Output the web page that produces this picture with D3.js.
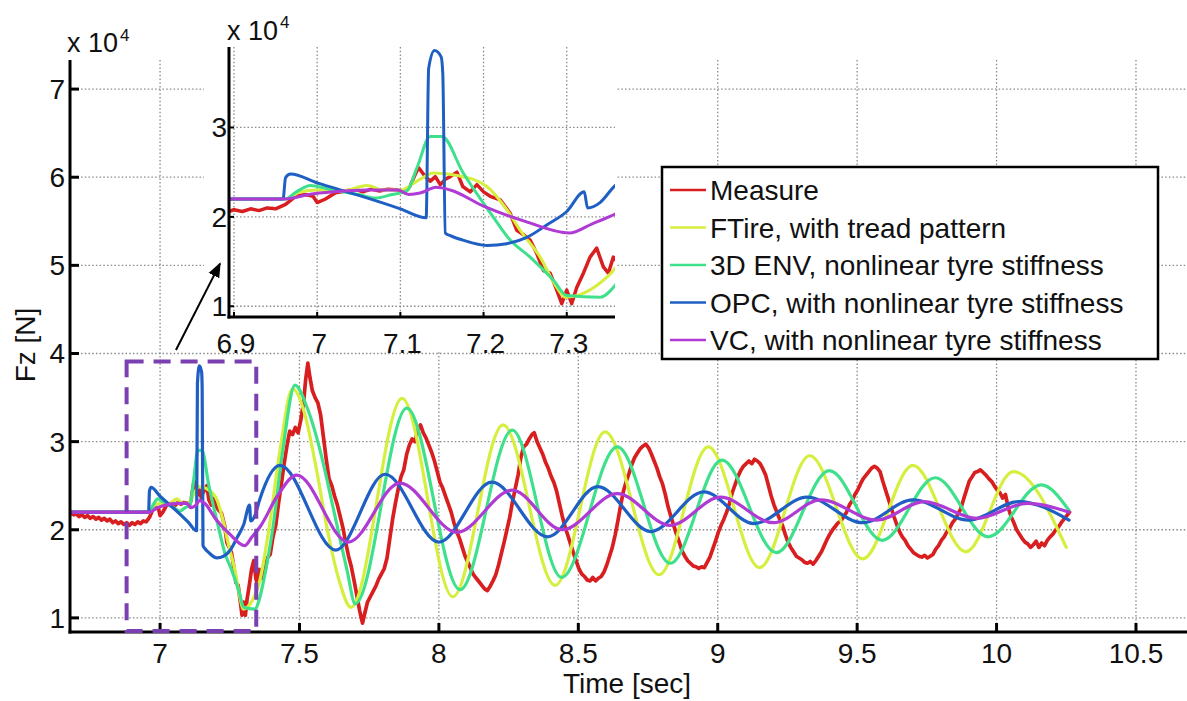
<!DOCTYPE html>
<html><head><meta charset="utf-8">
<script src="https://cdn.jsdelivr.net/npm/d3@7"></script>
<style>
body{margin:0;background:#fff}
svg{display:block}
text{font-family:"Liberation Sans",Arial,Helvetica,sans-serif;fill:#111}
</style>
</head><body><svg id="c" width="1187" height="701"></svg>
<script>
// ---------- data ----------
const seriesNames = ["Measure","FTire, with tread pattern","3D ENV, nonlinear tyre stiffness","OPC, with nonlinear tyre stiffness","VC, with nonlinear tyre stiffness"];
const seriesColors = ["#d81e1e","#d6ee3e","#3ee08c","#1f5fc4","#b03ad4"];
const seriesWidths = [3.7,3.2,3.2,3.2,3.2];
const xTicksMain = [7,7.5,8,8.5,9,9.5,10,10.5];
const yTicksMain = [1,2,3,4,5,6,7];
const xTicksInset = [6.9,7,7.1,7.2,7.3];
const yTicksInset = [1,2,3];
const axisLabels = {x:"Time [sec]", y:"Fz [N]", exp:"x 10", expSup:"4"};

// time [s], Fz [x 10^4 N]
const measure = [
[6.68,2.19],[6.69,2.17],[6.70,2.18],[6.71,2.15],[6.72,2.17],[6.73,2.14],[6.74,2.16],[6.75,2.13],[6.76,2.15],[6.77,2.12],[6.78,2.14],[6.79,2.11],[6.80,2.13],[6.81,2.10],[6.82,2.12],[6.83,2.08],[6.84,2.10],[6.85,2.07],[6.86,2.09],[6.87,2.06],[6.88,2.08],[6.89,2.05],[6.90,2.08],[6.91,2.06],[6.92,2.09],[6.93,2.07],[6.94,2.10],[6.95,2.09],[6.962,2.14],[6.974,2.23],[6.986,2.25],[6.995,2.23],[7.0,2.16],[7.01,2.2],[7.022,2.27],[7.034,2.29],[7.045,2.31],[7.055,2.28],[7.065,2.31],[7.075,2.29],[7.085,2.31],[7.097,2.3],[7.105,2.27],[7.112,2.35],[7.118,2.48],[7.122,2.55],[7.13,2.45],[7.136,2.4],[7.142,2.45],[7.148,2.36],[7.154,2.42],[7.16,2.45],[7.168,2.5],[7.175,2.34],[7.184,2.28],[7.192,2.36],[7.2,2.28],[7.208,2.23],[7.22,2.19],[7.232,2.04],[7.24,1.85],[7.248,1.8],[7.256,1.74],[7.264,1.59],[7.272,1.4],[7.28,1.37],[7.288,1.18],[7.294,1.03],[7.3,1.18],[7.306,1.03],[7.312,1.21],[7.32,1.37],[7.328,1.55],[7.336,1.65],[7.344,1.44],[7.35,1.37],[7.356,1.55],[7.365,1.45],[7.375,1.52],[7.385,1.68],[7.395,1.72],[7.405,1.92],[7.415,2.05],[7.425,2.3],[7.435,2.52],[7.445,2.75],[7.455,2.95],[7.465,3.12],[7.475,3.08],[7.485,3.16],[7.495,3.1],[7.505,3.25],[7.515,3.45],[7.522,3.7],[7.53,3.89],[7.538,3.72],[7.546,3.58],[7.556,3.5],[7.566,3.44],[7.576,3.3],[7.586,3.05],[7.596,2.8],[7.606,2.58],[7.616,2.5],[7.626,2.38],[7.636,2.28],[7.646,2.15],[7.656,2.02],[7.666,1.85],[7.676,1.7],[7.686,1.58],[7.696,1.42],[7.706,1.25],[7.716,1.08],[7.726,0.94],[7.734,1.05],[7.744,1.18],[7.754,1.24],[7.764,1.3],[7.774,1.36],[7.784,1.44],[7.794,1.5],[7.804,1.56],[7.814,1.68],[7.824,1.9],[7.834,2.12],[7.844,2.3],[7.854,2.46],[7.864,2.6],[7.874,2.68],[7.884,2.85],[7.894,2.96],[7.904,3.03],[7.914,3.0],[7.924,3.12],[7.934,3.19],[7.944,3.1],[7.954,3.04],[7.964,2.96],[7.974,2.88],[7.984,2.78],[7.994,2.66],[8.004,2.54],[8.014,2.47],[8.024,2.38],[8.034,2.29],[8.044,2.2],[8.054,2.08],[8.064,1.98],[8.074,1.9],[8.084,1.8],[8.094,1.7],[8.104,1.63],[8.114,1.56],[8.124,1.49],[8.134,1.45],[8.144,1.41],[8.154,1.37],[8.164,1.33],[8.174,1.31],[8.184,1.36],[8.194,1.42],[8.204,1.49],[8.214,1.6],[8.224,1.73],[8.234,1.86],[8.244,2.0],[8.254,2.14],[8.264,2.32],[8.274,2.47],[8.284,2.62],[8.294,2.82],[8.304,2.94],[8.314,2.97],[8.324,3.03],[8.334,3.08],[8.342,3.1],[8.352,3.0],[8.362,2.93],[8.372,2.86],[8.382,2.77],[8.392,2.7],[8.402,2.61],[8.412,2.54],[8.422,2.44],[8.432,2.3],[8.442,2.16],[8.452,2.04],[8.462,1.94],[8.472,1.84],[8.482,1.74],[8.492,1.65],[8.502,1.56],[8.512,1.5],[8.522,1.47],[8.532,1.43],[8.542,1.42],[8.552,1.46],[8.562,1.42],[8.572,1.45],[8.582,1.47],[8.592,1.52],[8.602,1.6],[8.612,1.7],[8.622,1.8],[8.632,1.94],[8.642,2.1],[8.652,2.28],[8.662,2.44],[8.672,2.55],[8.682,2.64],[8.692,2.74],[8.702,2.82],[8.712,2.87],[8.722,2.92],[8.732,2.95],[8.742,2.97],[8.752,2.93],[8.762,2.86],[8.772,2.78],[8.782,2.7],[8.792,2.6],[8.802,2.52],[8.812,2.4],[8.822,2.26],[8.832,2.15],[8.842,2.05],[8.852,1.95],[8.862,1.86],[8.872,1.76],[8.882,1.7],[8.892,1.65],[8.902,1.62],[8.912,1.59],[8.922,1.58],[8.932,1.56],[8.942,1.58],[8.952,1.57],[8.962,1.63],[8.972,1.69],[8.982,1.78],[8.992,1.87],[9.002,1.97],[9.012,2.05],[9.022,2.12],[9.032,2.2],[9.042,2.3],[9.052,2.42],[9.062,2.51],[9.072,2.6],[9.082,2.67],[9.092,2.72],[9.102,2.75],[9.112,2.78],[9.122,2.75],[9.132,2.8],[9.142,2.78],[9.152,2.75],[9.162,2.69],[9.172,2.62],[9.182,2.5],[9.192,2.38],[9.202,2.28],[9.212,2.2],[9.222,2.12],[9.232,2.05],[9.242,1.95],[9.252,1.86],[9.262,1.8],[9.272,1.75],[9.282,1.7],[9.292,1.68],[9.302,1.66],[9.312,1.63],[9.322,1.62],[9.332,1.64],[9.342,1.61],[9.352,1.65],[9.362,1.7],[9.372,1.75],[9.382,1.82],[9.392,1.89],[9.402,1.95],[9.412,2.0],[9.422,2.04],[9.432,2.08],[9.442,2.1],[9.452,2.15],[9.462,2.2],[9.472,2.28],[9.482,2.33],[9.492,2.4],[9.502,2.45],[9.512,2.52],[9.522,2.58],[9.532,2.62],[9.542,2.66],[9.552,2.7],[9.562,2.72],[9.572,2.7],[9.582,2.66],[9.592,2.55],[9.602,2.45],[9.612,2.35],[9.622,2.25],[9.632,2.15],[9.642,2.06],[9.652,1.98],[9.662,1.92],[9.672,1.88],[9.682,1.82],[9.692,1.78],[9.702,1.74],[9.712,1.72],[9.722,1.7],[9.732,1.69],[9.742,1.71],[9.752,1.68],[9.762,1.7],[9.772,1.72],[9.782,1.78],[9.792,1.82],[9.802,1.88],[9.812,1.92],[9.822,1.98],[9.832,2.02],[9.842,2.08],[9.852,2.12],[9.862,2.18],[9.872,2.24],[9.882,2.35],[9.892,2.45],[9.902,2.55],[9.912,2.6],[9.922,2.65],[9.932,2.66],[9.942,2.68],[9.952,2.65],[9.962,2.62],[9.972,2.58],[9.982,2.55],[9.992,2.5],[10.002,2.45],[10.012,2.42],[10.022,2.36],[10.032,2.4],[10.042,2.25],[10.052,2.15],[10.062,2.08],[10.072,2.0],[10.082,1.95],[10.092,1.9],[10.102,1.86],[10.112,1.84],[10.122,1.8],[10.132,1.83],[10.142,1.87],[10.152,1.8],[10.162,1.85],[10.172,1.82],[10.182,1.88],[10.192,1.92],[10.202,1.95],[10.212,2.0],[10.222,2.03],[10.232,2.08],[10.242,2.12],[10.252,2.16],[10.262,2.2]
];

const ftire = [
[6.68,2.2],[6.962,2.2],[6.98,2.28],[7.0,2.3],[7.03,2.29],[7.06,2.35],[7.08,2.3],[7.1,2.3],[7.12,2.4],[7.14,2.49],[7.17,2.46],[7.204,2.34],[7.228,2.08],[7.244,1.85],[7.268,1.55],[7.288,1.21],[7.298,1.1],[7.316,1.13],[7.34,1.26],[7.356,1.4],[7.39,2.0],[7.43,2.9],[7.475,3.6],[7.52,3.3],[7.56,2.7],[7.6,2.0],[7.64,1.45],[7.685,1.12],[7.868,3.49],[8.05,1.24],[8.23,3.19],[8.417,1.37],[8.596,3.11],[8.79,1.49],[8.966,2.94],[9.15,1.57],[9.33,2.84],[9.52,1.67],[9.70,2.73],[9.89,1.75],[10.06,2.66],[10.25,1.80]
];

const env3d = [
[6.68,2.2],[6.962,2.2],[6.975,2.28],[6.992,2.35],[7.01,2.32],[7.03,2.28],[7.05,2.25],[7.07,2.21],[7.09,2.25],[7.108,2.29],[7.12,2.55],[7.136,2.9],[7.15,2.9],[7.175,2.5],[7.21,2.02],[7.232,1.74],[7.256,1.55],[7.284,1.29],[7.3,1.12],[7.34,1.1],[7.356,1.21],[7.372,1.43],[7.405,2.03],[7.44,2.9],[7.484,3.64],[7.527,3.39],[7.574,2.9],[7.62,2.26],[7.67,1.55],[7.7,1.16],[7.885,3.38],[8.076,1.32],[8.263,3.13],[8.44,1.46],[8.64,2.94],[8.83,1.62],[9.015,2.79],[9.21,1.74],[9.40,2.67],[9.59,1.88],[9.78,2.59],[9.97,1.92],[10.16,2.51],[10.26,2.22]
];

const opc = [
[6.68,2.2],[6.959,2.2],[6.962,2.44],[6.968,2.48],[7.0,2.38],[7.05,2.24],[7.1,2.09],[7.131,1.99],[7.134,3.66],[7.141,3.86],[7.149,3.79],[7.151,3.6],[7.154,1.82],[7.16,1.79],[7.175,1.74],[7.204,1.68],[7.228,1.7],[7.252,1.77],[7.276,1.91],[7.3,2.06],[7.321,2.28],[7.325,2.1],[7.34,2.16],[7.356,2.33],[7.43,2.73],[7.63,1.77],[7.807,2.63],[8.0,1.86],[8.19,2.54],[8.39,1.92],[8.57,2.49],[8.76,1.98],[8.95,2.43],[9.13,2.07],[9.32,2.37],[9.52,2.08],[9.70,2.34],[9.9,2.11],[10.08,2.32],[10.26,2.11]
];

const vc = [
[6.68,2.2],[6.962,2.2],[6.99,2.25],[7.02,2.28],[7.06,2.3],[7.097,2.3],[7.11,2.25],[7.125,2.27],[7.143,2.33],[7.16,2.3],[7.2,2.12],[7.25,1.95],[7.303,1.82],[7.33,1.92],[7.36,2.04],[7.42,2.38],[7.49,2.62],[7.675,1.86],[7.86,2.53],[8.065,1.97],[8.263,2.45],[8.442,2.0],[8.64,2.41],[8.83,2.05],[9.01,2.37],[9.2,2.08],[9.37,2.34],[9.57,2.11],[9.74,2.32],[9.93,2.13],[10.11,2.30],[10.26,2.2]
];

const allSeries = [measure, ftire, env3d, opc, vc];
const curveKinds = ["linear","smooth","smooth","smooth","smooth"];

// zoom window annotation (data coords) and arrow (data coords)
const zoomBox = {t0:6.88, t1:7.345, v0:0.85, v1:3.91};
const arrowFrom = [7.057, 4.04];
const arrowTo = [7.215, 5.02];

// ---------- layout ----------
const svg = d3.select("#c");
const M = {left:70, right:1187, top:60, bottom:632};
const x = d3.scaleLinear().domain([6.677, 10.683]).range([M.left, M.right]);
const y = d3.scaleLinear().domain([0.84, 7.33]).range([M.bottom, M.top]);

const I = {left:229, right:615, top:47, bottom:317};
const xi = d3.scaleLinear().domain([6.894, 7.358]).range([I.left, I.right]);
const yi = d3.scaleLinear().domain([0.88, 3.9]).range([I.bottom, I.top]);

const FS = 28;
const gridStyle = g => g.attr("stroke","#8a8a8a").attr("stroke-width",1.3).attr("stroke-dasharray","1.5,2.2").attr("fill","none");

const defs = svg.append("defs");
defs.append("clipPath").attr("id","clipMain").append("rect")
  .attr("x",M.left).attr("y",M.top).attr("width",M.right-M.left).attr("height",M.bottom-M.top);
defs.append("clipPath").attr("id","clipInset").append("rect")
  .attr("x",I.left).attr("y",I.top-2).attr("width",I.right-I.left).attr("height",I.bottom-I.top+2);
defs.append("marker").attr("id","arrowHead").attr("viewBox","0 0 10 10").attr("refX",9).attr("refY",5)
  .attr("markerUnits","userSpaceOnUse").attr("orient","auto")
  .attr("markerWidth",15).attr("markerHeight",15)
  .append("path").attr("d","M0,1 L10,5 L0,9 Z").attr("fill","#000");

// ---------- main grid ----------
const gMainGrid = svg.append("g").call(gridStyle);
gMainGrid.selectAll("line.h").data(yTicksMain).join("line").attr("class","h")
  .attr("x1",M.left).attr("x2",M.right).attr("y1",d=>y(d)).attr("y2",d=>y(d));
gMainGrid.selectAll("line.v").data(xTicksMain).join("line").attr("class","v")
  .attr("x1",d=>x(d)).attr("x2",d=>x(d)).attr("y1",M.top).attr("y2",M.bottom);

// ---------- main series ----------
function lineGen(xs, ys, kind){
  return d3.line().x(d=>xs(d[0])).y(d=>ys(d[1]))
    .curve(kind==="smooth" ? d3.curveMonotoneX : d3.curveLinear);
}
const gMain = svg.append("g").attr("clip-path","url(#clipMain)");
allSeries.forEach((s,i)=>{
  gMain.append("path").datum(s).attr("d", lineGen(x,y,curveKinds[i]))
    .attr("fill","none").attr("stroke",seriesColors[i]).attr("stroke-width",seriesWidths[i])
    .attr("stroke-linejoin","round").attr("stroke-linecap","round");
});

// ---------- main axes ----------
const gAx = svg.append("g");
gAx.append("line").attr("x1",M.left).attr("x2",M.left).attr("y1",M.top).attr("y2",M.bottom+1.5)
  .attr("stroke","#000").attr("stroke-width",3);
gAx.append("line").attr("x1",M.left-1.5).attr("x2",M.right).attr("y1",M.bottom).attr("y2",M.bottom)
  .attr("stroke","#000").attr("stroke-width",3);
gAx.selectAll("line.yt").data(yTicksMain).join("line").attr("class","yt")
  .attr("x1",M.left).attr("x2",M.left+9).attr("y1",d=>y(d)).attr("y2",d=>y(d))
  .attr("stroke","#000").attr("stroke-width",3);
gAx.selectAll("line.xt").data(xTicksMain).join("line").attr("class","xt")
  .attr("x1",d=>x(d)).attr("x2",d=>x(d)).attr("y1",M.bottom).attr("y2",M.bottom-9)
  .attr("stroke","#000").attr("stroke-width",3);
gAx.selectAll("text.yl").data(yTicksMain).join("text").attr("class","yl")
  .attr("x",M.left-5).attr("y",d=>y(d)+10).attr("text-anchor","end").attr("font-size",FS).text(d=>String(d));
gAx.selectAll("text.xl").data(xTicksMain).join("text").attr("class","xl")
  .attr("x",d=>x(d)).attr("y",M.bottom+31).attr("text-anchor","middle").attr("font-size",FS).text(d=>String(d));
svg.append("text").attr("x",627).attr("y",693).attr("text-anchor","middle").attr("font-size",FS).text(axisLabels.x);
svg.append("text").attr("transform","translate(35,345) rotate(-90)").attr("text-anchor","middle").attr("font-size",FS).text(axisLabels.y);
svg.append("text").attr("x",67).attr("y",52).attr("font-size",27).text(axisLabels.exp);
svg.append("text").attr("x",120).attr("y",41).attr("font-size",17).text(axisLabels.expSup);

// ---------- zoom box ----------
svg.append("rect").attr("x",x(zoomBox.t0)).attr("y",y(zoomBox.v1))
  .attr("width",x(zoomBox.t1)-x(zoomBox.t0)).attr("height",y(zoomBox.v0)-y(zoomBox.v1))
  .attr("fill","none").attr("stroke","#7a3fb0").attr("stroke-width",4).attr("stroke-dasharray","17,10");

// ---------- inset ----------
const gIn = svg.append("g");
gIn.append("rect").attr("x",204).attr("y",0).attr("width",412).attr("height",352).attr("fill","#fff");
const gInGrid = gIn.append("g").call(gridStyle);
gInGrid.selectAll("line.h").data(yTicksInset).join("line")
  .attr("x1",I.left).attr("x2",I.right).attr("y1",d=>yi(d)).attr("y2",d=>yi(d));
gInGrid.selectAll("line.v").data(xTicksInset).join("line").attr("class","v")
  .attr("x1",d=>xi(d)).attr("x2",d=>xi(d)).attr("y1",I.top).attr("y2",I.bottom);
const gInData = gIn.append("g").attr("clip-path","url(#clipInset)");
allSeries.forEach((s,i)=>{
  gInData.append("path").datum(s).attr("d", lineGen(xi,yi,curveKinds[i]))
    .attr("fill","none").attr("stroke",seriesColors[i]).attr("stroke-width",seriesWidths[i]-0.2)
    .attr("stroke-linejoin","round").attr("stroke-linecap","round");
});
gIn.append("line").attr("x1",I.left).attr("x2",I.left).attr("y1",I.top).attr("y2",I.bottom+1.5)
  .attr("stroke","#000").attr("stroke-width",3);
gIn.append("line").attr("x1",I.left-1.5).attr("x2",I.right).attr("y1",I.bottom).attr("y2",I.bottom)
  .attr("stroke","#000").attr("stroke-width",3);
gIn.selectAll("line.yt").data(yTicksInset).join("line").attr("class","yt")
  .attr("x1",I.left).attr("x2",I.left+5).attr("y1",d=>yi(d)).attr("y2",d=>yi(d)).attr("stroke","#000").attr("stroke-width",2);
gIn.selectAll("line.xt").data(xTicksInset).join("line").attr("class","xt")
  .attr("x1",d=>xi(d)).attr("x2",d=>xi(d)).attr("y1",I.bottom).attr("y2",I.bottom-5).attr("stroke","#000").attr("stroke-width",2);
gIn.selectAll("text.yl").data(yTicksInset).join("text").attr("class","yl")
  .attr("x",I.left-2).attr("y",d=>yi(d)+10).attr("text-anchor","end").attr("font-size",FS).text(d=>String(d));
gIn.selectAll("text.xl").data(xTicksInset).join("text").attr("class","xl")
  .attr("x",d=>xi(d)+2).attr("y",I.bottom+36).attr("text-anchor","middle").attr("font-size",FS).text(d=>String(d));
gIn.append("text").attr("x",227).attr("y",40).attr("font-size",27).text(axisLabels.exp);
gIn.append("text").attr("x",280).attr("y",28).attr("font-size",17).text(axisLabels.expSup);

// ---------- arrow ----------
svg.append("line").attr("x1",x(arrowFrom[0])).attr("y1",y(arrowFrom[1]))
  .attr("x2",x(arrowTo[0])).attr("y2",y(arrowTo[1]))
  .attr("stroke","#000").attr("stroke-width",2).attr("marker-end","url(#arrowHead)");

// ---------- legend ----------
const L = {x:662, y:167, w:496, h:192, row:37.5};
const gL = svg.append("g");
gL.append("rect").attr("x",L.x).attr("y",L.y).attr("width",L.w).attr("height",L.h)
  .attr("fill","#fff").attr("stroke","#000").attr("stroke-width",2.5);
const rows = gL.selectAll("g.row").data(seriesNames).join("g").attr("class","row")
  .attr("transform",(d,i)=>`translate(${L.x},${L.y+23+i*L.row})`);
rows.append("line").attr("x1",8).attr("x2",44).attr("y1",0).attr("y2",0)
  .attr("stroke",(d,i)=>seriesColors[i]).attr("stroke-width",2.5);
rows.append("text").attr("x",48).attr("y",10).attr("font-size",FS).text(d=>d);
</script>
</body></html>
